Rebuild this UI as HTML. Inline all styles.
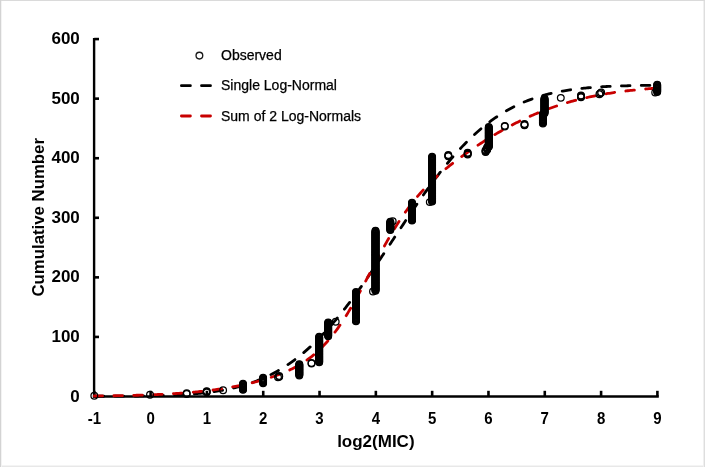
<!DOCTYPE html>
<html><head><meta charset="utf-8"><style>
html,body{margin:0;padding:0;background:#fff;}
#c{position:relative;width:705px;height:467px;overflow:hidden;background:#fff;}
svg{position:absolute;left:0;top:0;will-change:transform;}
text{font-family:"Liberation Sans",sans-serif;fill:#000;}
.yl{font-size:17px;font-weight:bold;}
.xl{font-size:15.8px;font-weight:bold;}
.at{font-size:17px;font-weight:bold;}
.at2{font-size:16.8px;font-weight:bold;}
.lg{font-size:14px;stroke:#000;stroke-width:0.25px;}
</style></head><body><div id="c">
<svg width="705" height="467" viewBox="0 0 705 467">
<rect x="0" y="0" width="705" height="467" fill="#fff"/>
<g stroke="#000" stroke-width="2.6"><line x1="94.1" y1="37.9" x2="94.1" y2="397.6" stroke-width="2.4"/><line x1="92.9" y1="396.4" x2="658.8" y2="396.4" stroke-width="2.5"/><line x1="94.2" y1="396.50" x2="99.0" y2="396.50" /><line x1="94.2" y1="336.93" x2="99.0" y2="336.93" /><line x1="94.2" y1="277.36" x2="99.0" y2="277.36" /><line x1="94.2" y1="217.79" x2="99.0" y2="217.79" /><line x1="94.2" y1="158.22" x2="99.0" y2="158.22" /><line x1="94.2" y1="98.65" x2="99.0" y2="98.65" /><line x1="94.2" y1="39.08" x2="99.0" y2="39.08" /><line x1="94.30" y1="396.4" x2="94.30" y2="390.8" /><line x1="150.61" y1="396.4" x2="150.61" y2="390.8" /><line x1="206.92" y1="396.4" x2="206.92" y2="390.8" /><line x1="263.23" y1="396.4" x2="263.23" y2="390.8" /><line x1="319.54" y1="396.4" x2="319.54" y2="390.8" /><line x1="375.85" y1="396.4" x2="375.85" y2="390.8" /><line x1="432.16" y1="396.4" x2="432.16" y2="390.8" /><line x1="488.47" y1="396.4" x2="488.47" y2="390.8" /><line x1="544.78" y1="396.4" x2="544.78" y2="390.8" /><line x1="601.09" y1="396.4" x2="601.09" y2="390.8" /><line x1="657.40" y1="396.4" x2="657.40" y2="390.8" /></g>
<path d="M94.30,396.26 L95.71,396.25 L97.12,396.25 L98.53,396.25 L99.95,396.24 L101.36,396.24 L102.77,396.23 L104.18,396.23 L105.59,396.22 L107.00,396.22 L108.41,396.21 L109.82,396.21 L111.24,396.20 L112.65,396.20 L114.06,396.19 L115.47,396.18 L116.88,396.17 L118.29,396.17 L119.70,396.16 L121.11,396.15 L122.53,396.14 L123.94,396.13 L125.35,396.12 L126.76,396.11 L128.17,396.10 L129.58,396.08 L130.99,396.07 L132.40,396.06 L133.82,396.04 L135.23,396.03 L136.64,396.01 L138.05,395.99 L139.46,395.97 L140.87,395.95 L142.28,395.93 L143.69,395.91 L145.11,395.89 L146.52,395.87 L147.93,395.84 L149.34,395.82 L150.75,395.79 L152.16,395.76 L153.57,395.73 L154.98,395.70 L156.40,395.66 L157.81,395.63 L159.22,395.59 L160.63,395.55 L162.04,395.51 L163.45,395.47 L164.86,395.42 L166.28,395.37 L167.69,395.32 L169.10,395.27 L170.51,395.22 L171.92,395.16 L173.33,395.10 L174.74,395.04 L176.15,394.97 L177.57,394.90 L178.98,394.83 L180.39,394.76 L181.80,394.68 L183.21,394.60 L184.62,394.51 L186.03,394.42 L187.44,394.33 L188.86,394.23 L190.27,394.13 L191.68,394.02 L193.09,393.91 L194.50,393.80 L195.91,393.68 L197.32,393.55 L198.73,393.42 L200.15,393.29 L201.56,393.14 L202.97,393.00 L204.38,392.84 L205.79,392.69 L207.20,392.52 L208.61,392.35 L210.02,392.17 L211.44,391.98 L212.85,391.79 L214.26,391.59 L215.67,391.38 L217.08,391.17 L218.49,390.94 L219.90,390.71 L221.32,390.47 L222.73,390.22 L224.14,389.97 L225.55,389.70 L226.96,389.42 L228.37,389.13 L229.78,388.84 L231.19,388.53 L232.61,388.21 L234.02,387.89 L235.43,387.55 L236.84,387.20 L238.25,386.84 L239.66,386.46 L241.07,386.08 L242.48,385.68 L243.90,385.27 L245.31,384.84 L246.72,384.41 L248.13,383.96 L249.54,383.49 L250.95,383.01 L252.36,382.52 L253.77,382.01 L255.19,381.49 L256.60,380.95 L258.01,380.40 L259.42,379.83 L260.83,379.25 L262.24,378.65 L263.65,378.03 L265.06,377.40 L266.48,376.74 L267.89,376.08 L269.30,375.39 L270.71,374.69 L272.12,373.96 L273.53,373.22 L274.94,372.46 L276.35,371.69 L277.77,370.89 L279.18,370.07 L280.59,369.24 L282.00,368.38 L283.41,367.50 L284.82,366.61 L286.23,365.69 L287.65,364.76 L289.06,363.80 L290.47,362.82 L291.88,361.82 L293.29,360.80 L294.70,359.76 L296.11,358.69 L297.52,357.61 L298.94,356.50 L300.35,355.37 L301.76,354.22 L303.17,353.05 L304.58,351.86 L305.99,350.64 L307.40,349.40 L308.81,348.14 L310.23,346.86 L311.64,345.55 L313.05,344.23 L314.46,342.88 L315.87,341.50 L317.28,340.11 L318.69,338.69 L320.10,337.26 L321.52,335.80 L322.93,334.32 L324.34,332.81 L325.75,331.29 L327.16,329.74 L328.57,328.18 L329.98,326.59 L331.39,324.98 L332.81,323.35 L334.22,321.70 L335.63,320.03 L337.04,318.34 L338.45,316.63 L339.86,314.90 L341.27,313.15 L342.68,311.39 L344.10,309.60 L345.51,307.80 L346.92,305.98 L348.33,304.14 L349.74,302.28 L351.15,300.41 L352.56,298.52 L353.98,296.62 L355.39,294.70 L356.80,292.77 L358.21,290.82 L359.62,288.85 L361.03,286.88 L362.44,284.89 L363.85,282.89 L365.27,280.87 L366.68,278.85 L368.09,276.81 L369.50,274.77 L370.91,272.71 L372.32,270.65 L373.73,268.57 L375.14,266.49 L376.56,264.40 L377.97,262.31 L379.38,260.21 L380.79,258.10 L382.20,255.98 L383.61,253.87 L385.02,251.74 L386.43,249.62 L387.85,247.49 L389.26,245.36 L390.67,243.23 L392.08,241.10 L393.49,238.97 L394.90,236.84 L396.31,234.71 L397.72,232.58 L399.14,230.45 L400.55,228.33 L401.96,226.21 L403.37,224.10 L404.78,221.99 L406.19,219.88 L407.60,217.78 L409.02,215.69 L410.43,213.61 L411.84,211.53 L413.25,209.46 L414.66,207.40 L416.07,205.35 L417.48,203.31 L418.89,201.28 L420.31,199.27 L421.72,197.26 L423.13,195.27 L424.54,193.29 L425.95,191.32 L427.36,189.36 L428.77,187.42 L430.18,185.50 L431.60,183.59 L433.01,181.70 L434.42,179.82 L435.83,177.96 L437.24,176.11 L438.65,174.28 L440.06,172.47 L441.47,170.68 L442.89,168.91 L444.30,167.15 L445.71,165.42 L447.12,163.70 L448.53,162.00 L449.94,160.32 L451.35,158.67 L452.76,157.03 L454.18,155.41 L455.59,153.82 L457.00,152.24 L458.41,150.69 L459.82,149.15 L461.23,147.64 L462.64,146.15 L464.05,144.69 L465.47,143.24 L466.88,141.82 L468.29,140.41 L469.70,139.03 L471.11,137.67 L472.52,136.34 L473.93,135.03 L475.35,133.73 L476.76,132.46 L478.17,131.22 L479.58,129.99 L480.99,128.79 L482.40,127.61 L483.81,126.45 L485.22,125.31 L486.64,124.20 L488.05,123.11 L489.46,122.03 L490.87,120.98 L492.28,119.96 L493.69,118.95 L495.10,117.96 L496.51,117.00 L497.93,116.05 L499.34,115.13 L500.75,114.22 L502.16,113.34 L503.57,112.48 L504.98,111.63 L506.39,110.81 L507.80,110.01 L509.22,109.22 L510.63,108.45 L512.04,107.71 L513.45,106.98 L514.86,106.27 L516.27,105.57 L517.68,104.90 L519.09,104.24 L520.51,103.60 L521.92,102.97 L523.33,102.37 L524.74,101.78 L526.15,101.20 L527.56,100.64 L528.97,100.10 L530.38,99.57 L531.80,99.06 L533.21,98.56 L534.62,98.08 L536.03,97.61 L537.44,97.15 L538.85,96.71 L540.26,96.28 L541.68,95.87 L543.09,95.46 L544.50,95.07 L545.91,94.69 L547.32,94.33 L548.73,93.97 L550.14,93.63 L551.55,93.30 L552.97,92.98 L554.38,92.67 L555.79,92.37 L557.20,92.08 L558.61,91.79 L560.02,91.52 L561.43,91.26 L562.84,91.01 L564.26,90.77 L565.67,90.53 L567.08,90.30 L568.49,90.09 L569.90,89.88 L571.31,89.67 L572.72,89.48 L574.13,89.29 L575.55,89.11 L576.96,88.93 L578.37,88.77 L579.78,88.60 L581.19,88.45 L582.60,88.30 L584.01,88.16 L585.42,88.02 L586.84,87.89 L588.25,87.76 L589.66,87.64 L591.07,87.52 L592.48,87.41 L593.89,87.30 L595.30,87.20 L596.72,87.10 L598.13,87.00 L599.54,86.91 L600.95,86.82 L602.36,86.74 L603.77,86.66 L605.18,86.58 L606.59,86.51 L608.01,86.44 L609.42,86.38 L610.83,86.31 L612.24,86.25 L613.65,86.19 L615.06,86.14 L616.47,86.08 L617.88,86.03 L619.30,85.98 L620.71,85.94 L622.12,85.90 L623.53,85.85 L624.94,85.81 L626.35,85.78 L627.76,85.74 L629.17,85.70 L630.59,85.67 L632.00,85.64 L633.41,85.61 L634.82,85.58 L636.23,85.56 L637.64,85.53 L639.05,85.51 L640.46,85.48 L641.88,85.46 L643.29,85.44 L644.70,85.42 L646.11,85.40 L647.52,85.39 L648.93,85.37 L650.34,85.35 L651.75,85.34 L653.17,85.32 L654.58,85.31 L655.99,85.30 L657.40,85.28" fill="none" stroke="#000" stroke-width="2.8" stroke-dasharray="8.6 11.245" stroke-dashoffset="-0.88" stroke-linecap="round"/><path d="M94.30,395.99 L95.71,395.98 L97.12,395.96 L98.53,395.95 L99.95,395.93 L101.36,395.92 L102.77,395.90 L104.18,395.89 L105.59,395.87 L107.00,395.85 L108.41,395.83 L109.82,395.81 L111.24,395.79 L112.65,395.77 L114.06,395.75 L115.47,395.73 L116.88,395.70 L118.29,395.68 L119.70,395.65 L121.11,395.63 L122.53,395.60 L123.94,395.57 L125.35,395.54 L126.76,395.51 L128.17,395.48 L129.58,395.45 L130.99,395.42 L132.40,395.38 L133.82,395.35 L135.23,395.31 L136.64,395.27 L138.05,395.23 L139.46,395.19 L140.87,395.15 L142.28,395.11 L143.69,395.06 L145.11,395.01 L146.52,394.97 L147.93,394.92 L149.34,394.87 L150.75,394.81 L152.16,394.76 L153.57,394.70 L154.98,394.64 L156.40,394.58 L157.81,394.52 L159.22,394.46 L160.63,394.39 L162.04,394.32 L163.45,394.25 L164.86,394.18 L166.28,394.11 L167.69,394.03 L169.10,393.95 L170.51,393.87 L171.92,393.79 L173.33,393.70 L174.74,393.61 L176.15,393.52 L177.57,393.43 L178.98,393.33 L180.39,393.23 L181.80,393.13 L183.21,393.02 L184.62,392.91 L186.03,392.80 L187.44,392.69 L188.86,392.57 L190.27,392.45 L191.68,392.32 L193.09,392.20 L194.50,392.07 L195.91,391.93 L197.32,391.79 L198.73,391.65 L200.15,391.50 L201.56,391.35 L202.97,391.20 L204.38,391.04 L205.79,390.88 L207.20,390.72 L208.61,390.55 L210.02,390.37 L211.44,390.19 L212.85,390.01 L214.26,389.82 L215.67,389.63 L217.08,389.43 L218.49,389.23 L219.90,389.02 L221.32,388.81 L222.73,388.59 L224.14,388.37 L225.55,388.15 L226.96,387.91 L228.37,387.68 L229.78,387.43 L231.19,387.18 L232.61,386.93 L234.02,386.67 L235.43,386.40 L236.84,386.13 L238.25,385.85 L239.66,385.57 L241.07,385.28 L242.48,384.98 L243.90,384.68 L245.31,384.37 L246.72,384.05 L248.13,383.73 L249.54,383.40 L250.95,383.06 L252.36,382.71 L253.77,382.36 L255.19,382.00 L256.60,381.63 L258.01,381.25 L259.42,380.87 L260.83,380.47 L262.24,380.07 L263.65,379.66 L265.06,379.24 L266.48,378.81 L267.89,378.37 L269.30,377.92 L270.71,377.46 L272.12,376.99 L273.53,376.50 L274.94,376.01 L276.35,375.50 L277.77,374.98 L279.18,374.45 L280.59,373.90 L282.00,373.33 L283.41,372.75 L284.82,372.16 L286.23,371.55 L287.65,370.92 L289.06,370.27 L290.47,369.60 L291.88,368.92 L293.29,368.21 L294.70,367.47 L296.11,366.72 L297.52,365.94 L298.94,365.14 L300.35,364.30 L301.76,363.44 L303.17,362.55 L304.58,361.63 L305.99,360.68 L307.40,359.70 L308.81,358.68 L310.23,357.62 L311.64,356.53 L313.05,355.40 L314.46,354.23 L315.87,353.02 L317.28,351.77 L318.69,350.48 L320.10,349.14 L321.52,347.75 L322.93,346.32 L324.34,344.84 L325.75,343.31 L327.16,341.74 L328.57,340.11 L329.98,338.43 L331.39,336.71 L332.81,334.93 L334.22,333.10 L335.63,331.22 L337.04,329.30 L338.45,327.32 L339.86,325.29 L341.27,323.21 L342.68,321.08 L344.10,318.91 L345.51,316.69 L346.92,314.42 L348.33,312.12 L349.74,309.77 L351.15,307.38 L352.56,304.95 L353.98,302.49 L355.39,300.00 L356.80,297.47 L358.21,294.92 L359.62,292.34 L361.03,289.74 L362.44,287.11 L363.85,284.47 L365.27,281.82 L366.68,279.16 L368.09,276.49 L369.50,273.81 L370.91,271.13 L372.32,268.45 L373.73,265.78 L375.14,263.11 L376.56,260.46 L377.97,257.81 L379.38,255.19 L380.79,252.58 L382.20,249.99 L383.61,247.43 L385.02,244.89 L386.43,242.38 L387.85,239.89 L389.26,237.44 L390.67,235.03 L392.08,232.64 L393.49,230.30 L394.90,227.99 L396.31,225.72 L397.72,223.49 L399.14,221.29 L400.55,219.14 L401.96,217.03 L403.37,214.96 L404.78,212.93 L406.19,210.94 L407.60,208.99 L409.02,207.09 L410.43,205.22 L411.84,203.39 L413.25,201.60 L414.66,199.85 L416.07,198.13 L417.48,196.46 L418.89,194.81 L420.31,193.20 L421.72,191.63 L423.13,190.09 L424.54,188.57 L425.95,187.09 L427.36,185.64 L428.77,184.21 L430.18,182.82 L431.60,181.44 L433.01,180.09 L434.42,178.77 L435.83,177.47 L437.24,176.18 L438.65,174.92 L440.06,173.68 L441.47,172.46 L442.89,171.25 L444.30,170.06 L445.71,168.89 L447.12,167.73 L448.53,166.59 L449.94,165.46 L451.35,164.34 L452.76,163.23 L454.18,162.14 L455.59,161.06 L457.00,159.99 L458.41,158.93 L459.82,157.88 L461.23,156.84 L462.64,155.81 L464.05,154.80 L465.47,153.78 L466.88,152.78 L468.29,151.79 L469.70,150.81 L471.11,149.83 L472.52,148.86 L473.93,147.90 L475.35,146.95 L476.76,146.01 L478.17,145.07 L479.58,144.14 L480.99,143.22 L482.40,142.31 L483.81,141.41 L485.22,140.51 L486.64,139.62 L488.05,138.74 L489.46,137.87 L490.87,137.01 L492.28,136.15 L493.69,135.30 L495.10,134.46 L496.51,133.63 L497.93,132.81 L499.34,131.99 L500.75,131.18 L502.16,130.38 L503.57,129.59 L504.98,128.81 L506.39,128.03 L507.80,127.27 L509.22,126.51 L510.63,125.76 L512.04,125.02 L513.45,124.28 L514.86,123.56 L516.27,122.84 L517.68,122.14 L519.09,121.44 L520.51,120.75 L521.92,120.06 L523.33,119.39 L524.74,118.73 L526.15,118.07 L527.56,117.42 L528.97,116.78 L530.38,116.15 L531.80,115.53 L533.21,114.92 L534.62,114.31 L536.03,113.72 L537.44,113.13 L538.85,112.55 L540.26,111.98 L541.68,111.41 L543.09,110.86 L544.50,110.31 L545.91,109.78 L547.32,109.25 L548.73,108.73 L550.14,108.21 L551.55,107.71 L552.97,107.21 L554.38,106.72 L555.79,106.24 L557.20,105.77 L558.61,105.30 L560.02,104.85 L561.43,104.40 L562.84,103.95 L564.26,103.52 L565.67,103.09 L567.08,102.68 L568.49,102.26 L569.90,101.86 L571.31,101.46 L572.72,101.07 L574.13,100.69 L575.55,100.32 L576.96,99.95 L578.37,99.59 L579.78,99.23 L581.19,98.89 L582.60,98.55 L584.01,98.21 L585.42,97.88 L586.84,97.56 L588.25,97.25 L589.66,96.94 L591.07,96.64 L592.48,96.35 L593.89,96.06 L595.30,95.77 L596.72,95.50 L598.13,95.23 L599.54,94.96 L600.95,94.70 L602.36,94.45 L603.77,94.20 L605.18,93.96 L606.59,93.72 L608.01,93.49 L609.42,93.26 L610.83,93.04 L612.24,92.82 L613.65,92.61 L615.06,92.40 L616.47,92.20 L617.88,92.01 L619.30,91.81 L620.71,91.63 L622.12,91.44 L623.53,91.26 L624.94,91.09 L626.35,90.92 L627.76,90.75 L629.17,90.59 L630.59,90.44 L632.00,90.28 L633.41,90.13 L634.82,89.99 L636.23,89.84 L637.64,89.71 L639.05,89.57 L640.46,89.44 L641.88,89.31 L643.29,89.19 L644.70,89.07 L646.11,88.95 L647.52,88.83 L648.93,88.72 L650.34,88.61 L651.75,88.51 L653.17,88.41 L654.58,88.31 L655.99,88.21 L657.40,88.12" fill="none" stroke="#c80000" stroke-width="2.8" stroke-dasharray="8.6 11.285" stroke-dashoffset="0.36" stroke-linecap="round"/><g fill="none" stroke="#000" stroke-width="1.25"><circle cx="94.30" cy="395.70" r="3.35"/><circle cx="186.70" cy="393.92" r="3.35"/><circle cx="186.70" cy="393.32" r="3.35"/><circle cx="223.10" cy="390.34" r="3.35"/><circle cx="243.00" cy="389.75" r="3.35"/><circle cx="243.00" cy="389.15" r="3.35"/><circle cx="243.00" cy="388.56" r="3.35"/><circle cx="243.00" cy="387.96" r="3.35"/><circle cx="243.00" cy="387.36" r="3.35"/><circle cx="243.00" cy="386.77" r="3.35"/><circle cx="243.00" cy="386.17" r="3.35"/><circle cx="243.00" cy="385.58" r="3.35"/><circle cx="243.00" cy="384.98" r="3.35"/><circle cx="243.00" cy="384.39" r="3.35"/><circle cx="243.00" cy="383.79" r="3.35"/><circle cx="263.10" cy="383.19" r="3.35"/><circle cx="263.10" cy="382.60" r="3.35"/><circle cx="263.10" cy="382.00" r="3.35"/><circle cx="263.10" cy="381.41" r="3.35"/><circle cx="263.10" cy="380.81" r="3.35"/><circle cx="263.10" cy="380.22" r="3.35"/><circle cx="263.10" cy="379.62" r="3.35"/><circle cx="263.10" cy="379.02" r="3.35"/><circle cx="263.10" cy="378.43" r="3.35"/><circle cx="263.10" cy="377.83" r="3.35"/><circle cx="278.00" cy="377.24" r="3.35"/><circle cx="279.20" cy="376.64" r="3.35"/><circle cx="279.20" cy="376.05" r="3.35"/><circle cx="299.30" cy="375.45" r="3.35"/><circle cx="299.30" cy="374.85" r="3.35"/><circle cx="299.30" cy="374.26" r="3.35"/><circle cx="299.30" cy="373.66" r="3.35"/><circle cx="299.30" cy="373.07" r="3.35"/><circle cx="299.30" cy="372.47" r="3.35"/><circle cx="299.30" cy="371.88" r="3.35"/><circle cx="299.30" cy="371.28" r="3.35"/><circle cx="299.30" cy="370.68" r="3.35"/><circle cx="299.30" cy="370.09" r="3.35"/><circle cx="299.30" cy="369.49" r="3.35"/><circle cx="299.30" cy="368.90" r="3.35"/><circle cx="299.30" cy="368.30" r="3.35"/><circle cx="299.30" cy="367.71" r="3.35"/><circle cx="299.30" cy="367.11" r="3.35"/><circle cx="299.30" cy="366.51" r="3.35"/><circle cx="299.30" cy="365.92" r="3.35"/><circle cx="299.30" cy="365.32" r="3.35"/><circle cx="299.30" cy="364.73" r="3.35"/><circle cx="299.30" cy="364.13" r="3.35"/><circle cx="311.50" cy="363.54" r="3.35"/><circle cx="311.50" cy="362.94" r="3.35"/><circle cx="319.20" cy="362.35" r="3.35"/><circle cx="319.20" cy="361.75" r="3.35"/><circle cx="319.20" cy="361.15" r="3.35"/><circle cx="319.20" cy="360.56" r="3.35"/><circle cx="319.20" cy="359.96" r="3.35"/><circle cx="319.20" cy="359.37" r="3.35"/><circle cx="319.20" cy="358.77" r="3.35"/><circle cx="319.20" cy="358.18" r="3.35"/><circle cx="319.20" cy="357.58" r="3.35"/><circle cx="319.20" cy="356.98" r="3.35"/><circle cx="319.20" cy="356.39" r="3.35"/><circle cx="319.20" cy="355.79" r="3.35"/><circle cx="319.20" cy="355.20" r="3.35"/><circle cx="319.20" cy="354.60" r="3.35"/><circle cx="319.20" cy="354.01" r="3.35"/><circle cx="319.20" cy="353.41" r="3.35"/><circle cx="319.20" cy="352.81" r="3.35"/><circle cx="319.20" cy="352.22" r="3.35"/><circle cx="319.20" cy="351.62" r="3.35"/><circle cx="319.20" cy="351.03" r="3.35"/><circle cx="319.20" cy="350.43" r="3.35"/><circle cx="319.20" cy="349.84" r="3.35"/><circle cx="319.20" cy="349.24" r="3.35"/><circle cx="319.20" cy="348.64" r="3.35"/><circle cx="319.20" cy="348.05" r="3.35"/><circle cx="319.20" cy="347.45" r="3.35"/><circle cx="319.20" cy="346.86" r="3.35"/><circle cx="319.20" cy="346.26" r="3.35"/><circle cx="319.20" cy="345.67" r="3.35"/><circle cx="319.20" cy="345.07" r="3.35"/><circle cx="319.20" cy="344.47" r="3.35"/><circle cx="319.20" cy="343.88" r="3.35"/><circle cx="319.20" cy="343.28" r="3.35"/><circle cx="319.20" cy="342.69" r="3.35"/><circle cx="319.20" cy="342.09" r="3.35"/><circle cx="319.20" cy="341.50" r="3.35"/><circle cx="319.20" cy="340.90" r="3.35"/><circle cx="319.20" cy="340.30" r="3.35"/><circle cx="319.20" cy="339.71" r="3.35"/><circle cx="319.20" cy="339.11" r="3.35"/><circle cx="319.20" cy="338.52" r="3.35"/><circle cx="319.20" cy="337.92" r="3.35"/><circle cx="319.20" cy="337.33" r="3.35"/><circle cx="319.20" cy="336.73" r="3.35"/><circle cx="328.20" cy="336.13" r="3.35"/><circle cx="328.20" cy="335.54" r="3.35"/><circle cx="328.20" cy="334.94" r="3.35"/><circle cx="328.20" cy="334.35" r="3.35"/><circle cx="328.20" cy="333.75" r="3.35"/><circle cx="328.20" cy="333.16" r="3.35"/><circle cx="328.20" cy="332.56" r="3.35"/><circle cx="328.20" cy="331.96" r="3.35"/><circle cx="328.20" cy="331.37" r="3.35"/><circle cx="328.20" cy="330.77" r="3.35"/><circle cx="328.20" cy="330.18" r="3.35"/><circle cx="328.20" cy="329.58" r="3.35"/><circle cx="328.20" cy="328.99" r="3.35"/><circle cx="328.20" cy="328.39" r="3.35"/><circle cx="328.20" cy="327.79" r="3.35"/><circle cx="328.20" cy="327.20" r="3.35"/><circle cx="328.20" cy="326.60" r="3.35"/><circle cx="328.20" cy="326.01" r="3.35"/><circle cx="328.20" cy="325.41" r="3.35"/><circle cx="328.20" cy="324.82" r="3.35"/><circle cx="328.20" cy="324.22" r="3.35"/><circle cx="328.20" cy="323.62" r="3.35"/><circle cx="328.20" cy="323.03" r="3.35"/><circle cx="328.20" cy="322.43" r="3.35"/><circle cx="335.70" cy="321.84" r="3.35"/><circle cx="356.00" cy="321.24" r="3.35"/><circle cx="356.00" cy="320.65" r="3.35"/><circle cx="356.00" cy="320.05" r="3.35"/><circle cx="356.00" cy="319.45" r="3.35"/><circle cx="356.00" cy="318.86" r="3.35"/><circle cx="356.00" cy="318.26" r="3.35"/><circle cx="356.00" cy="317.67" r="3.35"/><circle cx="356.00" cy="317.07" r="3.35"/><circle cx="356.00" cy="316.48" r="3.35"/><circle cx="356.00" cy="315.88" r="3.35"/><circle cx="356.00" cy="315.28" r="3.35"/><circle cx="356.00" cy="314.69" r="3.35"/><circle cx="356.00" cy="314.09" r="3.35"/><circle cx="356.00" cy="313.50" r="3.35"/><circle cx="356.00" cy="312.90" r="3.35"/><circle cx="356.00" cy="312.31" r="3.35"/><circle cx="356.00" cy="311.71" r="3.35"/><circle cx="356.00" cy="311.11" r="3.35"/><circle cx="356.00" cy="310.52" r="3.35"/><circle cx="356.00" cy="309.92" r="3.35"/><circle cx="356.00" cy="309.33" r="3.35"/><circle cx="356.00" cy="308.73" r="3.35"/><circle cx="356.00" cy="308.14" r="3.35"/><circle cx="356.00" cy="307.54" r="3.35"/><circle cx="356.00" cy="306.94" r="3.35"/><circle cx="356.00" cy="306.35" r="3.35"/><circle cx="356.00" cy="305.75" r="3.35"/><circle cx="356.00" cy="305.16" r="3.35"/><circle cx="356.00" cy="304.56" r="3.35"/><circle cx="356.00" cy="303.97" r="3.35"/><circle cx="356.00" cy="303.37" r="3.35"/><circle cx="356.00" cy="302.78" r="3.35"/><circle cx="356.00" cy="302.18" r="3.35"/><circle cx="356.00" cy="301.58" r="3.35"/><circle cx="356.00" cy="300.99" r="3.35"/><circle cx="356.00" cy="300.39" r="3.35"/><circle cx="356.00" cy="299.80" r="3.35"/><circle cx="356.00" cy="299.20" r="3.35"/><circle cx="356.00" cy="298.61" r="3.35"/><circle cx="356.00" cy="298.01" r="3.35"/><circle cx="356.00" cy="297.41" r="3.35"/><circle cx="356.00" cy="296.82" r="3.35"/><circle cx="356.00" cy="296.22" r="3.35"/><circle cx="356.00" cy="295.63" r="3.35"/><circle cx="356.00" cy="295.03" r="3.35"/><circle cx="356.00" cy="294.44" r="3.35"/><circle cx="356.00" cy="293.84" r="3.35"/><circle cx="356.00" cy="293.24" r="3.35"/><circle cx="356.00" cy="292.65" r="3.35"/><circle cx="356.00" cy="292.05" r="3.35"/><circle cx="373.00" cy="291.46" r="3.35"/><circle cx="375.50" cy="290.86" r="3.35"/><circle cx="375.50" cy="290.27" r="3.35"/><circle cx="375.50" cy="289.67" r="3.35"/><circle cx="375.50" cy="289.07" r="3.35"/><circle cx="375.50" cy="288.48" r="3.35"/><circle cx="375.50" cy="287.88" r="3.35"/><circle cx="375.50" cy="287.29" r="3.35"/><circle cx="375.50" cy="286.69" r="3.35"/><circle cx="375.50" cy="286.10" r="3.35"/><circle cx="375.50" cy="285.50" r="3.35"/><circle cx="375.50" cy="284.90" r="3.35"/><circle cx="375.50" cy="284.31" r="3.35"/><circle cx="375.50" cy="283.71" r="3.35"/><circle cx="375.50" cy="283.12" r="3.35"/><circle cx="375.50" cy="282.52" r="3.35"/><circle cx="375.50" cy="281.93" r="3.35"/><circle cx="375.50" cy="281.33" r="3.35"/><circle cx="375.50" cy="280.73" r="3.35"/><circle cx="375.50" cy="280.14" r="3.35"/><circle cx="375.50" cy="279.54" r="3.35"/><circle cx="375.50" cy="278.95" r="3.35"/><circle cx="375.50" cy="278.35" r="3.35"/><circle cx="375.50" cy="277.76" r="3.35"/><circle cx="375.50" cy="277.16" r="3.35"/><circle cx="375.50" cy="276.56" r="3.35"/><circle cx="375.50" cy="275.97" r="3.35"/><circle cx="375.50" cy="275.37" r="3.35"/><circle cx="375.50" cy="274.78" r="3.35"/><circle cx="375.50" cy="274.18" r="3.35"/><circle cx="375.50" cy="273.59" r="3.35"/><circle cx="375.50" cy="272.99" r="3.35"/><circle cx="375.50" cy="272.39" r="3.35"/><circle cx="375.50" cy="271.80" r="3.35"/><circle cx="375.50" cy="271.20" r="3.35"/><circle cx="375.50" cy="270.61" r="3.35"/><circle cx="375.50" cy="270.01" r="3.35"/><circle cx="375.50" cy="269.42" r="3.35"/><circle cx="375.50" cy="268.82" r="3.35"/><circle cx="375.50" cy="268.22" r="3.35"/><circle cx="375.50" cy="267.63" r="3.35"/><circle cx="375.50" cy="267.03" r="3.35"/><circle cx="375.50" cy="266.44" r="3.35"/><circle cx="375.50" cy="265.84" r="3.35"/><circle cx="375.50" cy="265.25" r="3.35"/><circle cx="375.50" cy="264.65" r="3.35"/><circle cx="375.50" cy="264.05" r="3.35"/><circle cx="375.50" cy="263.46" r="3.35"/><circle cx="375.50" cy="262.86" r="3.35"/><circle cx="375.50" cy="262.27" r="3.35"/><circle cx="375.50" cy="261.67" r="3.35"/><circle cx="375.50" cy="261.08" r="3.35"/><circle cx="375.50" cy="260.48" r="3.35"/><circle cx="375.50" cy="259.88" r="3.35"/><circle cx="375.50" cy="259.29" r="3.35"/><circle cx="375.50" cy="258.69" r="3.35"/><circle cx="375.50" cy="258.10" r="3.35"/><circle cx="375.50" cy="257.50" r="3.35"/><circle cx="375.50" cy="256.91" r="3.35"/><circle cx="375.50" cy="256.31" r="3.35"/><circle cx="375.50" cy="255.71" r="3.35"/><circle cx="375.50" cy="255.12" r="3.35"/><circle cx="375.50" cy="254.52" r="3.35"/><circle cx="375.50" cy="253.93" r="3.35"/><circle cx="375.50" cy="253.33" r="3.35"/><circle cx="375.50" cy="252.74" r="3.35"/><circle cx="375.50" cy="252.14" r="3.35"/><circle cx="375.50" cy="251.54" r="3.35"/><circle cx="375.50" cy="250.95" r="3.35"/><circle cx="375.50" cy="250.35" r="3.35"/><circle cx="375.50" cy="249.76" r="3.35"/><circle cx="375.50" cy="249.16" r="3.35"/><circle cx="375.50" cy="248.57" r="3.35"/><circle cx="375.50" cy="247.97" r="3.35"/><circle cx="375.50" cy="247.38" r="3.35"/><circle cx="375.50" cy="246.78" r="3.35"/><circle cx="375.50" cy="246.18" r="3.35"/><circle cx="375.50" cy="245.59" r="3.35"/><circle cx="375.50" cy="244.99" r="3.35"/><circle cx="375.50" cy="244.40" r="3.35"/><circle cx="375.50" cy="243.80" r="3.35"/><circle cx="375.50" cy="243.21" r="3.35"/><circle cx="375.50" cy="242.61" r="3.35"/><circle cx="375.50" cy="242.01" r="3.35"/><circle cx="375.50" cy="241.42" r="3.35"/><circle cx="375.50" cy="240.82" r="3.35"/><circle cx="375.50" cy="240.23" r="3.35"/><circle cx="375.50" cy="239.63" r="3.35"/><circle cx="375.50" cy="239.04" r="3.35"/><circle cx="375.50" cy="238.44" r="3.35"/><circle cx="375.50" cy="237.84" r="3.35"/><circle cx="375.50" cy="237.25" r="3.35"/><circle cx="375.50" cy="236.65" r="3.35"/><circle cx="375.50" cy="236.06" r="3.35"/><circle cx="375.50" cy="235.46" r="3.35"/><circle cx="375.50" cy="234.87" r="3.35"/><circle cx="375.50" cy="234.27" r="3.35"/><circle cx="375.50" cy="233.67" r="3.35"/><circle cx="375.50" cy="233.08" r="3.35"/><circle cx="375.50" cy="232.48" r="3.35"/><circle cx="375.50" cy="231.89" r="3.35"/><circle cx="375.50" cy="231.29" r="3.35"/><circle cx="375.50" cy="230.70" r="3.35"/><circle cx="390.30" cy="230.10" r="3.35"/><circle cx="390.30" cy="229.50" r="3.35"/><circle cx="390.30" cy="228.91" r="3.35"/><circle cx="390.30" cy="228.31" r="3.35"/><circle cx="390.30" cy="227.72" r="3.35"/><circle cx="390.30" cy="227.12" r="3.35"/><circle cx="390.30" cy="226.53" r="3.35"/><circle cx="390.30" cy="225.93" r="3.35"/><circle cx="390.30" cy="225.33" r="3.35"/><circle cx="390.30" cy="224.74" r="3.35"/><circle cx="390.30" cy="224.14" r="3.35"/><circle cx="390.30" cy="223.55" r="3.35"/><circle cx="390.30" cy="222.95" r="3.35"/><circle cx="390.30" cy="222.36" r="3.35"/><circle cx="390.30" cy="221.76" r="3.35"/><circle cx="392.70" cy="221.16" r="3.35"/><circle cx="412.00" cy="220.57" r="3.35"/><circle cx="412.00" cy="219.97" r="3.35"/><circle cx="412.00" cy="219.38" r="3.35"/><circle cx="412.00" cy="218.78" r="3.35"/><circle cx="412.00" cy="218.19" r="3.35"/><circle cx="412.00" cy="217.59" r="3.35"/><circle cx="412.00" cy="216.99" r="3.35"/><circle cx="412.00" cy="216.40" r="3.35"/><circle cx="412.00" cy="215.80" r="3.35"/><circle cx="412.00" cy="215.21" r="3.35"/><circle cx="412.00" cy="214.61" r="3.35"/><circle cx="412.00" cy="214.02" r="3.35"/><circle cx="412.00" cy="213.42" r="3.35"/><circle cx="412.00" cy="212.82" r="3.35"/><circle cx="412.00" cy="212.23" r="3.35"/><circle cx="412.00" cy="211.63" r="3.35"/><circle cx="412.00" cy="211.04" r="3.35"/><circle cx="412.00" cy="210.44" r="3.35"/><circle cx="412.00" cy="209.85" r="3.35"/><circle cx="412.00" cy="209.25" r="3.35"/><circle cx="412.00" cy="208.65" r="3.35"/><circle cx="412.00" cy="208.06" r="3.35"/><circle cx="412.00" cy="207.46" r="3.35"/><circle cx="412.00" cy="206.87" r="3.35"/><circle cx="412.00" cy="206.27" r="3.35"/><circle cx="412.00" cy="205.68" r="3.35"/><circle cx="412.00" cy="205.08" r="3.35"/><circle cx="412.00" cy="204.48" r="3.35"/><circle cx="412.00" cy="203.89" r="3.35"/><circle cx="412.00" cy="203.29" r="3.35"/><circle cx="412.00" cy="202.70" r="3.35"/><circle cx="429.80" cy="202.10" r="3.35"/><circle cx="432.10" cy="201.51" r="3.35"/><circle cx="432.10" cy="200.91" r="3.35"/><circle cx="432.10" cy="200.31" r="3.35"/><circle cx="432.10" cy="199.72" r="3.35"/><circle cx="432.10" cy="199.12" r="3.35"/><circle cx="432.10" cy="198.53" r="3.35"/><circle cx="432.10" cy="197.93" r="3.35"/><circle cx="432.10" cy="197.34" r="3.35"/><circle cx="432.10" cy="196.74" r="3.35"/><circle cx="432.10" cy="196.14" r="3.35"/><circle cx="432.10" cy="195.55" r="3.35"/><circle cx="432.10" cy="194.95" r="3.35"/><circle cx="432.10" cy="194.36" r="3.35"/><circle cx="432.10" cy="193.76" r="3.35"/><circle cx="432.10" cy="193.17" r="3.35"/><circle cx="432.10" cy="192.57" r="3.35"/><circle cx="432.10" cy="191.97" r="3.35"/><circle cx="432.10" cy="191.38" r="3.35"/><circle cx="432.10" cy="190.78" r="3.35"/><circle cx="432.10" cy="190.19" r="3.35"/><circle cx="432.10" cy="189.59" r="3.35"/><circle cx="432.10" cy="189.00" r="3.35"/><circle cx="432.10" cy="188.40" r="3.35"/><circle cx="432.10" cy="187.81" r="3.35"/><circle cx="432.10" cy="187.21" r="3.35"/><circle cx="432.10" cy="186.61" r="3.35"/><circle cx="432.10" cy="186.02" r="3.35"/><circle cx="432.10" cy="185.42" r="3.35"/><circle cx="432.10" cy="184.83" r="3.35"/><circle cx="432.10" cy="184.23" r="3.35"/><circle cx="432.10" cy="183.64" r="3.35"/><circle cx="432.10" cy="183.04" r="3.35"/><circle cx="432.10" cy="182.44" r="3.35"/><circle cx="432.10" cy="181.85" r="3.35"/><circle cx="432.10" cy="181.25" r="3.35"/><circle cx="432.10" cy="180.66" r="3.35"/><circle cx="432.10" cy="180.06" r="3.35"/><circle cx="432.10" cy="179.47" r="3.35"/><circle cx="432.10" cy="178.87" r="3.35"/><circle cx="432.10" cy="178.27" r="3.35"/><circle cx="432.10" cy="177.68" r="3.35"/><circle cx="432.10" cy="177.08" r="3.35"/><circle cx="432.10" cy="176.49" r="3.35"/><circle cx="432.10" cy="175.89" r="3.35"/><circle cx="432.10" cy="175.30" r="3.35"/><circle cx="432.10" cy="174.70" r="3.35"/><circle cx="432.10" cy="174.10" r="3.35"/><circle cx="432.10" cy="173.51" r="3.35"/><circle cx="432.10" cy="172.91" r="3.35"/><circle cx="432.10" cy="172.32" r="3.35"/><circle cx="432.10" cy="171.72" r="3.35"/><circle cx="432.10" cy="171.13" r="3.35"/><circle cx="432.10" cy="170.53" r="3.35"/><circle cx="432.10" cy="169.93" r="3.35"/><circle cx="432.10" cy="169.34" r="3.35"/><circle cx="432.10" cy="168.74" r="3.35"/><circle cx="432.10" cy="168.15" r="3.35"/><circle cx="432.10" cy="167.55" r="3.35"/><circle cx="432.10" cy="166.96" r="3.35"/><circle cx="432.10" cy="166.36" r="3.35"/><circle cx="432.10" cy="165.76" r="3.35"/><circle cx="432.10" cy="165.17" r="3.35"/><circle cx="432.10" cy="164.57" r="3.35"/><circle cx="432.10" cy="163.98" r="3.35"/><circle cx="432.10" cy="163.38" r="3.35"/><circle cx="432.10" cy="162.79" r="3.35"/><circle cx="432.10" cy="162.19" r="3.35"/><circle cx="432.10" cy="161.59" r="3.35"/><circle cx="432.10" cy="161.00" r="3.35"/><circle cx="432.10" cy="160.40" r="3.35"/><circle cx="432.10" cy="159.81" r="3.35"/><circle cx="432.10" cy="159.21" r="3.35"/><circle cx="432.10" cy="158.62" r="3.35"/><circle cx="432.10" cy="158.02" r="3.35"/><circle cx="432.10" cy="157.42" r="3.35"/><circle cx="432.10" cy="156.83" r="3.35"/><circle cx="448.30" cy="156.23" r="3.35"/><circle cx="448.30" cy="155.64" r="3.35"/><circle cx="448.30" cy="155.04" r="3.35"/><circle cx="467.70" cy="154.45" r="3.35"/><circle cx="467.70" cy="153.85" r="3.35"/><circle cx="467.70" cy="153.25" r="3.35"/><circle cx="467.70" cy="152.66" r="3.35"/><circle cx="485.60" cy="152.06" r="3.35"/><circle cx="485.60" cy="151.47" r="3.35"/><circle cx="485.60" cy="150.87" r="3.35"/><circle cx="485.60" cy="150.28" r="3.35"/><circle cx="487.20" cy="149.68" r="3.35"/><circle cx="487.20" cy="149.08" r="3.35"/><circle cx="487.20" cy="148.49" r="3.35"/><circle cx="487.20" cy="147.89" r="3.35"/><circle cx="487.20" cy="147.30" r="3.35"/><circle cx="488.80" cy="146.70" r="3.35"/><circle cx="488.80" cy="146.11" r="3.35"/><circle cx="488.80" cy="145.51" r="3.35"/><circle cx="488.80" cy="144.91" r="3.35"/><circle cx="488.80" cy="144.32" r="3.35"/><circle cx="488.80" cy="143.72" r="3.35"/><circle cx="488.80" cy="143.13" r="3.35"/><circle cx="488.80" cy="142.53" r="3.35"/><circle cx="488.80" cy="141.94" r="3.35"/><circle cx="488.80" cy="141.34" r="3.35"/><circle cx="488.80" cy="140.74" r="3.35"/><circle cx="488.80" cy="140.15" r="3.35"/><circle cx="488.80" cy="139.55" r="3.35"/><circle cx="488.80" cy="138.96" r="3.35"/><circle cx="488.80" cy="138.36" r="3.35"/><circle cx="488.80" cy="137.77" r="3.35"/><circle cx="488.80" cy="137.17" r="3.35"/><circle cx="488.80" cy="136.57" r="3.35"/><circle cx="488.80" cy="135.98" r="3.35"/><circle cx="488.80" cy="135.38" r="3.35"/><circle cx="488.80" cy="134.79" r="3.35"/><circle cx="488.80" cy="134.19" r="3.35"/><circle cx="488.80" cy="133.60" r="3.35"/><circle cx="488.80" cy="133.00" r="3.35"/><circle cx="488.80" cy="132.40" r="3.35"/><circle cx="488.80" cy="131.81" r="3.35"/><circle cx="488.80" cy="131.21" r="3.35"/><circle cx="488.80" cy="130.62" r="3.35"/><circle cx="488.80" cy="130.02" r="3.35"/><circle cx="488.80" cy="129.43" r="3.35"/><circle cx="488.80" cy="128.83" r="3.35"/><circle cx="488.80" cy="128.24" r="3.35"/><circle cx="488.80" cy="127.64" r="3.35"/><circle cx="488.80" cy="127.04" r="3.35"/><circle cx="504.80" cy="126.45" r="3.35"/><circle cx="504.80" cy="125.85" r="3.35"/><circle cx="524.50" cy="125.26" r="3.35"/><circle cx="524.50" cy="124.66" r="3.35"/><circle cx="524.50" cy="124.07" r="3.35"/><circle cx="542.90" cy="123.47" r="3.35"/><circle cx="542.90" cy="122.87" r="3.35"/><circle cx="542.90" cy="122.28" r="3.35"/><circle cx="542.90" cy="121.68" r="3.35"/><circle cx="542.90" cy="121.09" r="3.35"/><circle cx="542.90" cy="120.49" r="3.35"/><circle cx="542.90" cy="119.90" r="3.35"/><circle cx="542.90" cy="119.30" r="3.35"/><circle cx="542.90" cy="118.70" r="3.35"/><circle cx="542.90" cy="118.11" r="3.35"/><circle cx="542.90" cy="117.51" r="3.35"/><circle cx="542.90" cy="116.92" r="3.35"/><circle cx="542.90" cy="116.32" r="3.35"/><circle cx="542.90" cy="115.73" r="3.35"/><circle cx="542.90" cy="115.13" r="3.35"/><circle cx="542.90" cy="114.53" r="3.35"/><circle cx="542.90" cy="113.94" r="3.35"/><circle cx="544.50" cy="113.34" r="3.35"/><circle cx="544.50" cy="112.75" r="3.35"/><circle cx="544.50" cy="112.15" r="3.35"/><circle cx="544.50" cy="111.56" r="3.35"/><circle cx="544.50" cy="110.96" r="3.35"/><circle cx="544.50" cy="110.36" r="3.35"/><circle cx="544.50" cy="109.77" r="3.35"/><circle cx="544.50" cy="109.17" r="3.35"/><circle cx="544.50" cy="108.58" r="3.35"/><circle cx="544.50" cy="107.98" r="3.35"/><circle cx="544.50" cy="107.39" r="3.35"/><circle cx="544.50" cy="106.79" r="3.35"/><circle cx="544.50" cy="106.19" r="3.35"/><circle cx="544.50" cy="105.60" r="3.35"/><circle cx="544.50" cy="105.00" r="3.35"/><circle cx="544.50" cy="104.41" r="3.35"/><circle cx="544.50" cy="103.81" r="3.35"/><circle cx="544.50" cy="103.22" r="3.35"/><circle cx="544.50" cy="102.62" r="3.35"/><circle cx="544.50" cy="102.02" r="3.35"/><circle cx="544.50" cy="101.43" r="3.35"/><circle cx="544.50" cy="100.83" r="3.35"/><circle cx="544.50" cy="100.24" r="3.35"/><circle cx="544.50" cy="99.64" r="3.35"/><circle cx="544.50" cy="99.05" r="3.35"/><circle cx="544.50" cy="98.45" r="3.35"/><circle cx="560.80" cy="97.85" r="3.35"/><circle cx="581.00" cy="97.26" r="3.35"/><circle cx="581.00" cy="96.66" r="3.35"/><circle cx="581.00" cy="96.07" r="3.35"/><circle cx="581.00" cy="95.47" r="3.35"/><circle cx="655.20" cy="92.49" r="3.35"/><circle cx="657.20" cy="91.90" r="3.35"/><circle cx="657.20" cy="91.30" r="3.35"/><circle cx="657.20" cy="90.71" r="3.35"/><circle cx="657.20" cy="90.11" r="3.35"/><circle cx="657.20" cy="89.51" r="3.35"/><circle cx="657.20" cy="88.92" r="3.35"/><circle cx="657.20" cy="88.32" r="3.35"/><circle cx="657.20" cy="87.73" r="3.35"/><circle cx="657.20" cy="87.13" r="3.35"/><circle cx="657.20" cy="86.54" r="3.35"/><circle cx="657.20" cy="85.94" r="3.35"/><circle cx="657.20" cy="85.34" r="3.35"/><circle cx="657.20" cy="84.75" r="3.35"/><circle cx="599.40" cy="94.20" r="3.35"/><circle cx="600.30" cy="93.30" r="3.35"/><circle cx="601.20" cy="92.40" r="3.35"/><circle cx="150.00" cy="394.75" r="3.35"/><circle cx="206.70" cy="392.37" r="3.35"/><circle cx="206.70" cy="391.71" r="3.35"/><circle cx="206.70" cy="391.12" r="3.35"/></g>
<text x="79.8" y="401.60" text-anchor="end" class="yl">0</text><text x="79.8" y="342.03" text-anchor="end" class="yl">100</text><text x="79.8" y="282.46" text-anchor="end" class="yl">200</text><text x="79.8" y="222.89" text-anchor="end" class="yl">300</text><text x="79.8" y="163.32" text-anchor="end" class="yl">400</text><text x="79.8" y="103.75" text-anchor="end" class="yl">500</text><text x="79.8" y="44.18" text-anchor="end" class="yl">600</text><text transform="translate(94.30,423.5) scale(0.95,1)" text-anchor="middle" class="xl">-1</text><text transform="translate(150.61,423.5) scale(0.95,1)" text-anchor="middle" class="xl">0</text><text transform="translate(206.92,423.5) scale(0.95,1)" text-anchor="middle" class="xl">1</text><text transform="translate(263.23,423.5) scale(0.95,1)" text-anchor="middle" class="xl">2</text><text transform="translate(319.54,423.5) scale(0.95,1)" text-anchor="middle" class="xl">3</text><text transform="translate(375.85,423.5) scale(0.95,1)" text-anchor="middle" class="xl">4</text><text transform="translate(432.16,423.5) scale(0.95,1)" text-anchor="middle" class="xl">5</text><text transform="translate(488.47,423.5) scale(0.95,1)" text-anchor="middle" class="xl">6</text><text transform="translate(544.78,423.5) scale(0.95,1)" text-anchor="middle" class="xl">7</text><text transform="translate(601.09,423.5) scale(0.95,1)" text-anchor="middle" class="xl">8</text><text transform="translate(657.40,423.5) scale(0.95,1)" text-anchor="middle" class="xl">9</text>

<circle cx="199.4" cy="55.6" r="3.35" fill="none" stroke="#1a1a1a" stroke-width="1.35"/>
<text x="221" y="60.3" class="lg">Observed</text>
<line x1="181.4" y1="85.7" x2="210.6" y2="85.7" stroke="#000" stroke-width="2.8" stroke-dasharray="9 11.1" stroke-linecap="round"/>
<text x="221" y="90.3" class="lg">Single Log-Normal</text>
<line x1="181.4" y1="116" x2="210.6" y2="116" stroke="#c80000" stroke-width="2.8" stroke-dasharray="9 11.1" stroke-linecap="round"/>
<text x="221" y="120.6" class="lg">Sum of 2 Log-Normals</text>


<text x="375.85" y="447" text-anchor="middle" class="at">log2(MIC)</text>
<text transform="translate(44,217.3) rotate(-90)" text-anchor="middle" class="at2">Cumulative Number</text>

<rect x="0" y="465" width="705" height="1" fill="#f4f4f4"/>
<rect x="0" y="466" width="705" height="1" fill="#e8e8e8"/>
<rect x="703" y="0" width="1" height="467" fill="#f0f0f0"/>
<rect x="704" y="0" width="1" height="467" fill="#dedede"/>
<rect x="1" y="0" width="1" height="467" fill="#f3f3f3"/>
<rect x="0" y="0" width="705" height="1" fill="#dadada"/>
<rect x="0" y="0" width="1" height="467" fill="#d3d3d3"/>
</svg></div></body></html>
